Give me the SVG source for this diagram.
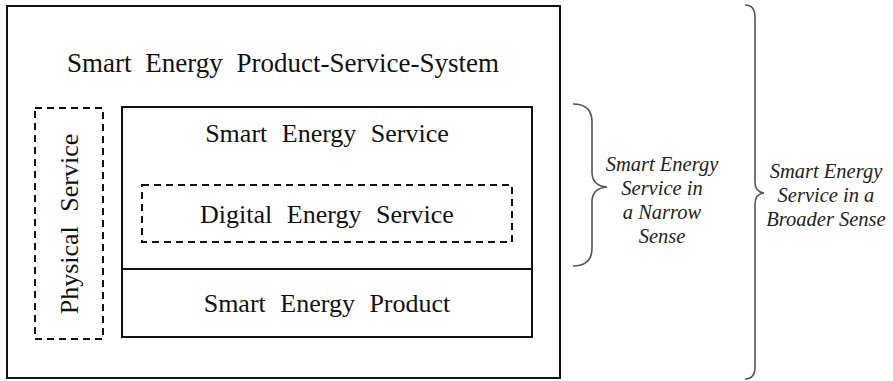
<svg xmlns="http://www.w3.org/2000/svg" width="893" height="381" viewBox="0 0 893 381">
<style>
.box{fill:none;stroke:#111;stroke-width:2}
.dash{fill:none;stroke:#111;stroke-width:2;stroke-dasharray:7,5}
.t{font-family:'Liberation Serif','Times New Roman',Times,serif;font-size:26px;fill:#111;text-anchor:middle;word-spacing:8px}
.it{font-family:'Liberation Serif','Times New Roman',Times,serif;font-style:italic;font-size:20.5px;fill:#222;text-anchor:middle}
.brace{fill:none;stroke:#555;stroke-width:1.6}
</style>
<rect width="893" height="381" fill="#fff"/>
<g id="pss">
<rect class="box" x="7" y="6" width="553" height="372"/>
<text class="t" x="283" y="72" style="font-size:27px;word-spacing:7px">Smart Energy Product-Service-System</text>
</g>
<g id="physical">
<rect class="dash" x="35" y="108" width="68" height="231"/>
<text class="t" transform="translate(78,224) rotate(-90)">Physical Service</text>
</g>
<g id="service">
<rect class="box" x="122" y="107" width="410" height="162"/>
<text class="t" x="327" y="142">Smart Energy Service</text>
</g>
<g id="digital">
<rect class="dash" x="142" y="185" width="370" height="57"/>
<text class="t" x="327" y="223">Digital Energy Service</text>
</g>
<g id="product">
<rect class="box" x="122" y="269" width="410" height="68"/>
<text class="t" x="327" y="312">Smart Energy Product</text>
</g>
<g id="connectors">
<path class="brace" d="M573,104 Q592,104 592,122 L592,172 Q592,186 607,187 Q592,188 592,202 L592,248 Q592,266 573,266"/>
<path class="brace" d="M745,5 Q755,5 755,17 L755,182 Q755,192 764,193 Q755,194 755,204 L755,367 Q755,379 745,379"/>
</g>
<g id="narrow">
<text class="it" x="662" y="171">Smart Energy</text>
<text class="it" x="662" y="195">Service in</text>
<text class="it" x="662" y="219">a Narrow</text>
<text class="it" x="662" y="243">Sense</text>
</g>
<g id="broad">
<text class="it" x="826" y="178">Smart Energy</text>
<text class="it" x="826" y="202">Service in a</text>
<text class="it" x="826" y="226">Broader Sense</text>
</g>
</svg>
